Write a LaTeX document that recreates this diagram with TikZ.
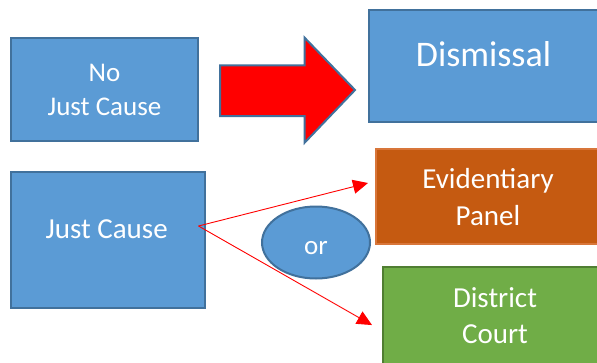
\documentclass[tikz,border=0pt]{standalone}
\usepackage{fontspec}
\setmainfont{Carlito}
\usetikzlibrary{arrows.meta,shapes.geometric,calc}
\definecolor{bfill}{HTML}{5B9BD5}
\definecolor{bdraw}{HTML}{41719C}
\definecolor{ofill}{HTML}{C55A11}
\definecolor{odraw}{HTML}{D8763A}
\definecolor{gfill}{HTML}{70AD47}
\definecolor{gdraw}{HTML}{507E32}
\tikzset{
  box/.style={rectangle, draw=bdraw, fill=bfill, line width=2pt, inner sep=0pt},
  lbl/.style={text=white, anchor=base, inner sep=0pt, align=center},
  link/.style={draw=red, line width=0.9pt, -{Triangle[length=15pt,width=14pt]}},
}
\newcommand{\twolines}[4]{{\fontsize{#1}{#2}\selectfont\begin{tabular}[t]{@{}c@{}}#3\\#4\end{tabular}}}
\begin{document}
\begin{tikzpicture}[x=1pt,y=-1pt]
\useasboundingbox (0,0) rectangle (597,362);
\clip (0,0) rectangle (597,362);
\fill[white] (0,0) rectangle (597,362);
% boxes
\node[box, minimum width=187pt, minimum height=103.3pt] (njc) at (104.5,89.3) {};
\node[box, minimum width=231pt, minimum height=111.7pt] (dis) at (484.5,65.85) {};
\node[box, minimum width=193.5pt, minimum height=135.4pt] (jc) at (107.75,240) {};
\node[box, draw=odraw, fill=ofill, minimum width=224pt, minimum height=95pt] (ep) at (488,196.8) {};
\node[box, draw=gdraw, fill=gfill, minimum width=227pt, minimum height=113.3pt] (dc) at (496.5,323.35) {};
\node[ellipse, draw=bdraw, fill=bfill, line width=2pt, minimum width=108pt, minimum height=72pt, inner sep=0pt] (or) at (316,242.5) {};
% big arrow
\filldraw[fill=red, draw=bdraw, line width=2pt, line join=miter]
  (220,65.3) -- (304.6,65.3) -- (304.6,37.7) -- (355,90) -- (304.6,142.7) -- (304.6,116) -- (220,116) -- cycle;
% labels
\node[lbl] (tnjc) at (104.5,81.7) {\twolines{27}{33.3}{No}{Just Cause}};
\node[lbl, font=\fontsize{36}{40}\selectfont] (tdis) at (483.5,66) {Dismissal};
\node[lbl, font=\fontsize{29}{34}\selectfont] (tjc) at (106.7,238) {Just Cause};
\node[lbl] (tep) at (488,188.3) {\twolines{29}{36.7}{Evidentiary}{Panel}};
\node[lbl] (tdc) at (495,307) {\twolines{29}{36}{District}{Court}};
\node[lbl, font=\fontsize{27}{30}\selectfont] (tor) at (316,254) {or};
% connectors
\coordinate (start) at ($(jc.east)+(-7,-14)$);
\coordinate (eptip) at ($(ep.west)+(-7,-13.8)$);
\coordinate (dctip) at ($(dc.west)+(-10,1.7)$);
\draw[link] (start) -- (eptip);
\draw[link] (start) -- (dctip);
\end{tikzpicture}
\end{document}
